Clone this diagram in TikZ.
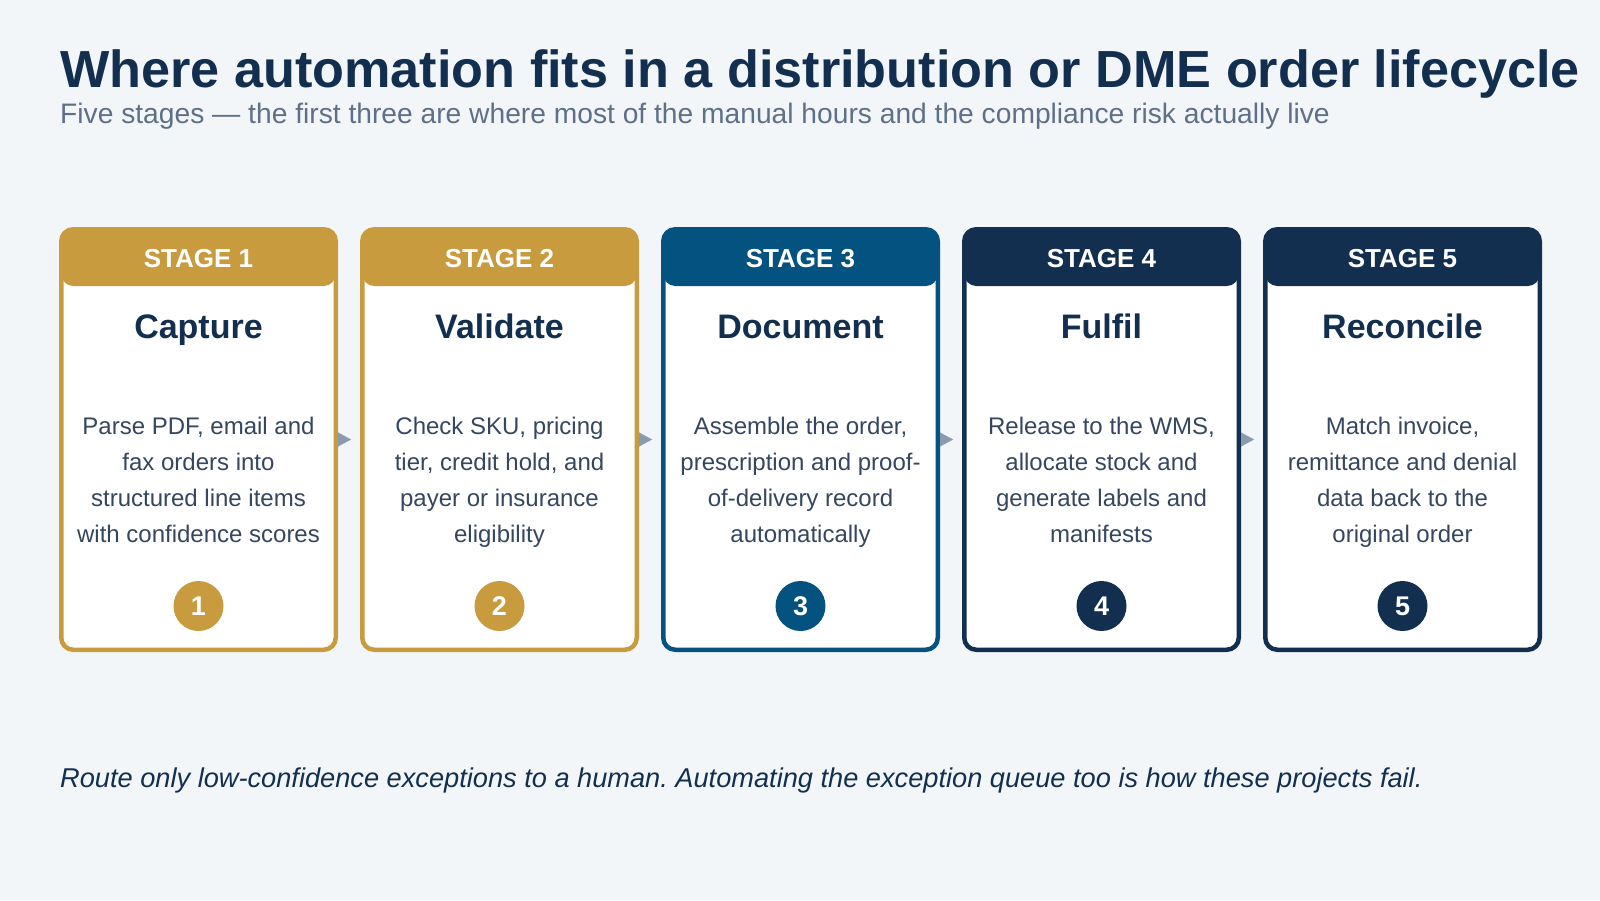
\documentclass[tikz,border=0pt]{standalone}
\usepackage{fontspec}
\setmainfont{Liberation Sans}
\usetikzlibrary{arrows.meta}
\frenchspacing
\definecolor{bgc}{HTML}{F3F6F9}
\definecolor{goldc}{HTML}{C89B3E}
\definecolor{navyc}{HTML}{132F50}
\definecolor{bluec}{HTML}{03527F}
\definecolor{bodyc}{HTML}{34475F}
\definecolor{subc}{HTML}{5E7088}
\definecolor{arrowc}{HTML}{8A9BB0}
\tikzset{
  card/.style={draw=#1, fill=white, line width=4.5pt, rounded corners=12pt,
    minimum width=274.5pt, minimum height=420.5pt, inner sep=0pt,
    path picture={\fill[#1] (path picture bounding box.north west) rectangle
      ([yshift=-56.75pt]path picture bounding box.north east);}},
  stagelbl/.style={text=white, font=\fontsize{26}{30}\selectfont\bfseries, anchor=base, inner sep=0pt},
  stagettl/.style={text=navyc, font=\fontsize{34}{40}\selectfont\bfseries, anchor=base, inner sep=0pt},
  bodytxt/.style={text=bodyc, font=\fontsize{24}{36}\selectfont, align=center, anchor=base, inner sep=0pt},
  numdot/.style={circle, fill=#1, minimum size=50pt, inner sep=0pt, text=white,
    font=\fontsize{27}{32}\selectfont\bfseries},
  flow/.style={arrowc, line width=0.1pt, -{Triangle[length=13pt,width=14pt]}, shorten >=9pt},
}
\begin{document}
\begin{tikzpicture}[x=1pt,y=-1pt]
\fill[bgc] (0,0) rectangle (1600,900);
\useasboundingbox (0,0) rectangle (1600,900);
\node[anchor=base west, inner sep=0pt, text=navyc, font=\fontsize{52.2}{60}\selectfont\bfseries] (title) at (60,87)
  {Where automation fits in a distribution or DME order lifecycle};
\node[anchor=base west, inner sep=0pt, text=subc, font=\fontsize{28.2}{33}\selectfont] (subtitle) at (60,123)
  {Five stages — the first three are where most of the manual hours and the compliance risk actually live};
% cards
\foreach \i/\col/\lbl/\ttl/\txt in {
  1/goldc/STAGE 1/Capture/{Parse PDF, email and\\fax orders into\\structured line items\\with confidence scores},
  2/goldc/STAGE 2/Validate/{Check SKU, pricing\\tier, credit hold, and\\payer or insurance\\eligibility},
  3/bluec/STAGE 3/Document/{Assemble the order,\\prescription and proof-\\of-delivery record\\automatically},
  4/navyc/STAGE 4/Fulfil/{Release to the WMS,\\allocate stock and\\generate labels and\\manifests},
  5/navyc/STAGE 5/Reconcile/{Match invoice,\\remittance and denial\\data back to the\\original order}}{
  \pgfmathsetmacro{\cx}{59+301*(\i-1)+139.5}
  \node[card=\col] (c\i) at (\cx,439.5) {};
  \node[stagelbl] (l\i) at (\cx,267) {\lbl};
  \node[stagettl] (t\i) at (\cx,338) {\ttl};
  \node[bodytxt] (b\i) at (\cx,542) {\txt};
  \node[numdot=\col] (n\i) at (\cx,606) {\i};
}
\foreach \i/\j in {1/2,2/3,3/4,4/5}{
  \draw[flow] (c\i.east) -- (c\j.west);
}
\node[anchor=base west, inner sep=0pt, text=navyc, font=\fontsize{27.2}{32}\selectfont\itshape] (note) at (60,787)
  {Route only low-confidence exceptions to a human. Automating the exception queue too is how these projects fail.};
\end{tikzpicture}
\end{document}
